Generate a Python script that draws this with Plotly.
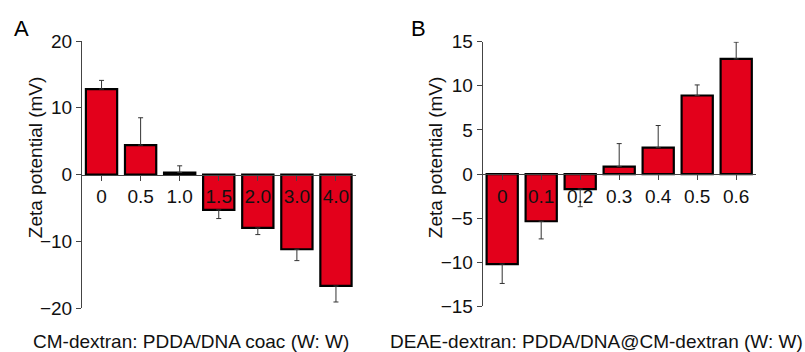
import plotly.graph_objects as go

# Panel A: CM-dextran added to PDDA/DNA coacervate
ratios_a = ["0", "0.5", "1.0", "1.5", "2.0", "3.0", "4.0"]
zeta_a = [12.8, 4.4, 0.3, -5.3, -8.0, -11.2, -16.7]
err_a = [1.3, 4.1, 1.0, 1.3, 1.0, 1.7, 2.4]

# Panel B: DEAE-dextran added to PDDA/DNA@CM-dextran
ratios_b = ["0", "0.1", "0.2", "0.3", "0.4", "0.5", "0.6"]
zeta_b = [-10.2, -5.35, -1.7, 0.85, 3.0, 8.9, 13.05]
err_b = [2.2, 2.0, 2.0, 2.6, 2.5, 1.2, 1.9]

W, H = 805, 352
FONT = "Liberation Sans, Arial, sans-serif"
RED = "#e3001b"
AXIS = "#444444"
TXT = "#111111"


def one_sided(vals, errs):
    # error bars point away from zero only
    up = [e if v >= 0 else 0 for v, e in zip(vals, errs)]
    down = [e if v < 0 else 0 for v, e in zip(vals, errs)]
    return up, down


fig = go.Figure()

for i, (cats, vals, errs) in enumerate([(ratios_a, zeta_a, err_a), (ratios_b, zeta_b, err_b)]):
    up, down = one_sided(vals, errs)
    sfx = "" if i == 0 else "2"
    fig.add_trace(go.Bar(
        x=list(range(len(cats))), y=vals,
        xaxis="x" + sfx, yaxis="y" + sfx,
        width=0.8,
        marker=dict(color=RED, line=dict(color="black", width=2.2)),
        error_y=dict(type="data", symmetric=False, array=up, arrayminus=down,
                     color="#333333", thickness=1, width=2.5),
        showlegend=False,
    ))

px_x = lambda p: p / W

common_y = dict(
    showline=True, linecolor=AXIS, linewidth=1,
    ticks="outside", ticklen=5, tickcolor=AXIS, tickwidth=1,
    showgrid=False, zeroline=False,
    tickfont=dict(family=FONT, size=19, color=TXT),
)
common_x = dict(
    range=[-0.5, 6.5], anchor="free",
    showline=True, linecolor=AXIS, linewidth=1,
    ticks="outside", ticklen=5, tickcolor=AXIS, tickwidth=1,
    showgrid=False, zeroline=False, tickmode="array",
    tickfont=dict(family=FONT, size=19, color=TXT),
    layer="above traces",
)

fig.update_layout(
    width=W, height=H,
    margin=dict(l=0, r=0, t=41, b=44),
    paper_bgcolor="white", plot_bgcolor="white",
    bargap=0.2,
    xaxis=dict(common_x, domain=[px_x(82), px_x(355.5)], position=0.5,
               tickvals=list(range(7)), ticktext=ratios_a),
    yaxis=dict(common_y, domain=[0, 1], range=[-20, 20], tickvals=[-20, -10, 0, 10, 20]),
    xaxis2=dict(common_x, domain=[px_x(482.7), px_x(755.7)], position=0.5017,
                tickvals=list(range(7)), ticktext=ratios_b),
    yaxis2=dict(common_y, domain=[0.006, 0.9974], range=[-15, 15], anchor="x2",
                tickvals=[-15, -10, -5, 0, 5, 10, 15]),
)

ann_font = dict(family=FONT, size=19, color=TXT)
ypix = lambda p: (308.3 - p) / 267.0

annotations = [
    dict(text="A", x=px_x(21), y=ypix(28.5), xanchor="center", yanchor="middle",
         font=dict(family=FONT, size=22, color="black")),
    dict(text="B", x=px_x(419), y=ypix(28.5), xanchor="center", yanchor="middle",
         font=dict(family=FONT, size=22, color="black")),
    dict(text="Zeta potential (mV)", x=px_x(35), y=ypix(157.5), textangle=-90,
         xanchor="center", yanchor="middle", font=ann_font),
    dict(text="Zeta potential (mV)", x=px_x(435), y=ypix(157.5), textangle=-90,
         xanchor="center", yanchor="middle", font=ann_font),
    dict(text="CM-dextran: PDDA/DNA coac (W: W)", x=px_x(191), y=ypix(342),
         xanchor="center", yanchor="middle", font=ann_font),
    dict(text="DEAE-dextran: PDDA/DNA@CM-dextran (W: W)", x=px_x(596), y=ypix(342),
         xanchor="center", yanchor="middle", font=ann_font),
]
for a in annotations:
    a.update(xref="paper", yref="paper", showarrow=False)
fig.update_layout(annotations=annotations)

fig.write_html("out.html")
